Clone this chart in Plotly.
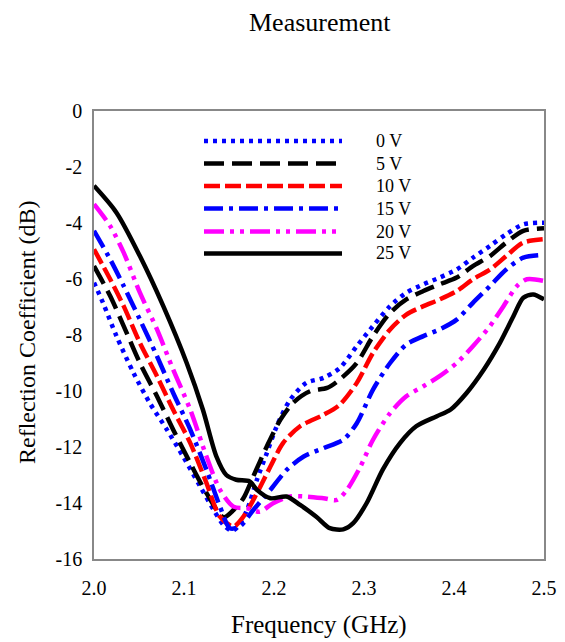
import plotly.graph_objects as go

# ---- data ----
freq_0v = [2.000, 2.010, 2.025, 2.044, 2.062, 2.081, 2.099, 2.118, 2.133, 2.144, 2.153, 2.160, 2.170, 2.181, 2.192, 2.203, 2.218, 2.236, 2.255, 2.273, 2.292, 2.310, 2.329, 2.347, 2.366, 2.384, 2.403, 2.421, 2.440, 2.458, 2.477, 2.500]
s11_0v = [-6.13, -6.85, -8.04, -9.36, -10.43, -11.38, -12.34, -13.41, -14.25, -14.79, -14.99, -14.84, -14.25, -13.17, -12.22, -11.26, -10.31, -9.71, -9.53, -9.18, -8.40, -7.68, -6.97, -6.49, -6.19, -5.95, -5.66, -5.24, -4.82, -4.40, -4.05, -3.99]

freq_5v = [2.000, 2.018, 2.033, 2.051, 2.070, 2.088, 2.107, 2.125, 2.144, 2.155, 2.166, 2.177, 2.192, 2.207, 2.221, 2.240, 2.259, 2.273, 2.292, 2.310, 2.329, 2.347, 2.366, 2.384, 2.403, 2.421, 2.440, 2.458, 2.477, 2.500]
s11_5v = [-5.54, -6.61, -7.68, -9.00, -10.19, -11.38, -12.58, -13.65, -14.51, -14.25, -13.83, -13.05, -11.98, -11.03, -10.43, -10.01, -9.89, -9.59, -9.00, -8.04, -7.21, -6.73, -6.43, -6.19, -5.95, -5.54, -5.18, -4.70, -4.28, -4.19]

freq_10v = [2.000, 2.018, 2.033, 2.051, 2.070, 2.088, 2.107, 2.125, 2.140, 2.155, 2.166, 2.181, 2.196, 2.210, 2.229, 2.255, 2.273, 2.292, 2.310, 2.329, 2.347, 2.366, 2.384, 2.403, 2.421, 2.440, 2.458, 2.477, 2.500]
s11_10v = [-4.94, -6.01, -6.97, -8.28, -9.47, -10.67, -11.86, -13.29, -14.49, -14.84, -14.49, -13.65, -12.70, -11.86, -11.26, -10.85, -10.49, -9.71, -8.64, -7.80, -7.27, -6.97, -6.73, -6.43, -6.01, -5.66, -5.18, -4.70, -4.58]

freq_15v = [2.000, 2.018, 2.033, 2.051, 2.070, 2.088, 2.107, 2.125, 2.140, 2.151, 2.162, 2.177, 2.196, 2.214, 2.233, 2.255, 2.277, 2.292, 2.310, 2.329, 2.347, 2.366, 2.384, 2.403, 2.421, 2.440, 2.458, 2.477, 2.500]
s11_15v = [-4.28, -5.30, -6.25, -7.45, -8.76, -10.07, -11.38, -12.82, -14.13, -14.90, -14.84, -14.25, -13.53, -12.82, -12.34, -12.04, -11.74, -11.15, -9.95, -9.00, -8.34, -8.04, -7.80, -7.45, -6.85, -6.25, -5.66, -5.24, -5.14]

freq_20v = [2.000, 2.018, 2.033, 2.051, 2.070, 2.088, 2.107, 2.125, 2.140, 2.155, 2.170, 2.184, 2.199, 2.218, 2.236, 2.255, 2.270, 2.281, 2.296, 2.310, 2.329, 2.347, 2.366, 2.384, 2.403, 2.421, 2.440, 2.455, 2.470, 2.481, 2.500]
s11_20v = [-3.33, -4.11, -5.06, -6.49, -7.80, -9.24, -10.67, -12.34, -13.53, -14.13, -14.19, -14.31, -14.01, -13.77, -13.77, -13.83, -13.89, -13.53, -12.70, -11.74, -10.79, -10.19, -9.83, -9.47, -9.00, -8.40, -7.68, -6.97, -6.25, -6.01, -6.07]

freq_25v = [2.000, 2.025, 2.051, 2.077, 2.103, 2.121, 2.136, 2.147, 2.158, 2.173, 2.181, 2.196, 2.214, 2.229, 2.247, 2.262, 2.277, 2.288, 2.303, 2.321, 2.340, 2.358, 2.381, 2.396, 2.414, 2.433, 2.451, 2.466, 2.477, 2.488, 2.500]
s11_25v = [-2.67, -3.63, -5.18, -6.97, -9.00, -10.67, -12.34, -13.00, -13.17, -13.23, -13.53, -13.83, -13.77, -14.07, -14.49, -14.90, -14.94, -14.72, -14.00, -12.80, -11.86, -11.26, -10.90, -10.67, -10.07, -9.24, -8.28, -7.33, -6.67, -6.55, -6.73]

series_names = ["0 V", "5 V", "10 V", "15 V", "20 V", "25 V"]
x_ticks = [2.0, 2.1, 2.2, 2.3, 2.4, 2.5]
x_tick_labels = ["2.0", "2.1", "2.2", "2.3", "2.4", "2.5"]
y_ticks = [0, -2, -4, -6, -8, -10, -12, -14, -16]
y_tick_labels = ["0", "-2", "-4", "-6", "-8", "-10", "-12", "-14", "-16"]

# ---- styles ----
styles = [
    dict(color="#0000FF", dash="4px,5px"),
    dict(color="#000000", dash="20px,8px"),
    dict(color="#FF0000", dash="16px,5px"),
    dict(color="#0000FF", dash="19px,6px,4px,6px"),
    dict(color="#FF00FF", dash="20px,6px,4px,6px,4px,6px"),
    dict(color="#000000", dash="solid"),
]
LW = 4.5
FONT = "Liberation Serif"

xs = [freq_0v, freq_5v, freq_10v, freq_15v, freq_20v, freq_25v]
ys = [s11_0v, s11_5v, s11_10v, s11_15v, s11_20v, s11_25v]

fig = go.Figure()
for name, x, y, st in zip(series_names, xs, ys, styles):
    fig.add_trace(go.Scatter(
        x=x, y=y, mode="lines", name=name, showlegend=False,
        line=dict(color=st["color"], dash=st["dash"], width=LW, shape="spline", smoothing=0.8),
    ))

# ---- plot-area geometry in pixels ----
L, T, W, H = 94, 111, 450, 448
FW, FH = 565, 642
def px_x(px):
    return (px - L) / W
def px_y(py):
    return (T + H - py) / H

# ---- custom legend (long line samples) ----
row_y = [141, 163.5, 186, 208.5, 231.5, 253.5]
for name, ry, st in zip(series_names, row_y, styles):
    fig.add_shape(type="line", xref="paper", yref="paper",
                  x0=px_x(204), x1=px_x(342), y0=px_y(ry), y1=px_y(ry),
                  line=dict(color=st["color"], dash=st["dash"], width=LW))
    fig.add_annotation(xref="paper", yref="paper", x=px_x(374), y=px_y(ry),
                       text=name, showarrow=False, xanchor="left", yanchor="middle",
                       font=dict(family=FONT, size=18, color="black"))

# ---- titles as annotations at measured positions ----
fig.add_annotation(xref="paper", yref="paper", x=px_x(319.5), y=px_y(22),
                   text="Measurement", showarrow=False, xanchor="center", yanchor="middle",
                   font=dict(family=FONT, size=26, color="black"))
fig.add_annotation(xref="paper", yref="paper", x=px_x(319), y=px_y(625),
                   text="Frequency (GHz)", showarrow=False, xanchor="center", yanchor="middle",
                   font=dict(family=FONT, size=25, color="black"))
fig.add_annotation(xref="paper", yref="paper", x=px_x(27), y=px_y(333),
                   text="Reflection Coefficient (dB)", showarrow=False, xanchor="center", yanchor="middle",
                   textangle=-90, font=dict(family=FONT, size=24, color="black"))

fig.update_layout(
    width=FW, height=FH,
    margin=dict(l=L, r=FW - L - W, t=T, b=FH - T - H),
    paper_bgcolor="white", plot_bgcolor="white",
    font=dict(family=FONT, color="black"),
    xaxis=dict(range=[2.0, 2.5], tickvals=x_ticks, ticktext=x_tick_labels, automargin=False,
               showgrid=False, zeroline=False, showline=True, linecolor="#888888", linewidth=1.5,
               mirror=True, ticks="", tickfont=dict(family=FONT, size=20, color="black"),
               ticklabelstandoff=10),
    yaxis=dict(range=[-16, 0], tickvals=y_ticks, ticktext=y_tick_labels, automargin=False,
               showgrid=False, zeroline=False, showline=True, linecolor="#888888", linewidth=1.5,
               mirror=True, ticks="", tickfont=dict(family=FONT, size=20, color="black"),
               ticklabelstandoff=6),
)

fig.write_html("out.html", config={"displayModeBar": False},
               post_script="document.body.style.margin='0';document.body.style.overflow='hidden';")
